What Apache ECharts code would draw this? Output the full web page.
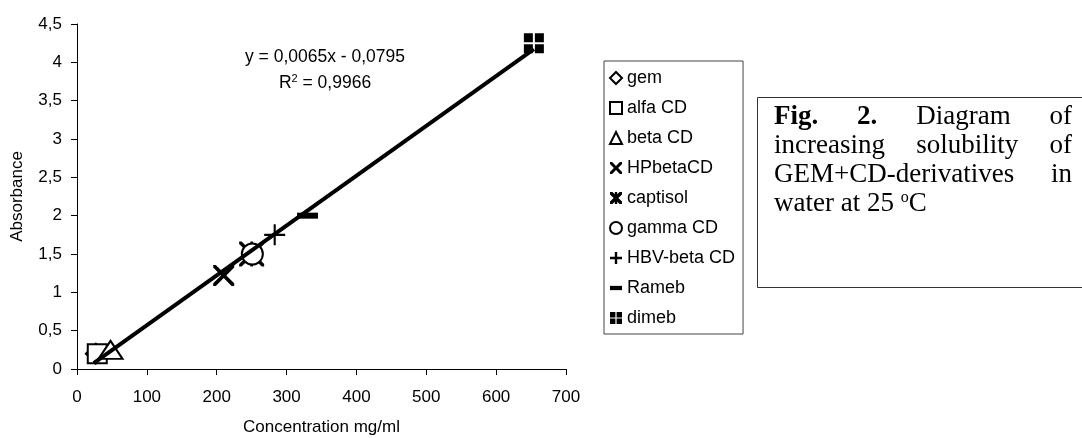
<!DOCTYPE html>
<html>
<head>
<meta charset="utf-8">
<script src="https://cdn.jsdelivr.net/npm/echarts@6/dist/echarts.min.js"></script>
<style>
html,body{margin:0;padding:0;background:#fff;}
#chart{width:1082px;height:438px;}
</style>
</head>
<body>
<div id="chart"></div>
<script>
// ---- data ----
const seriesNames = ['gem', 'alfa CD', 'beta CD', 'HPbetaCD', 'captisol', 'gamma CD', 'HBV-beta CD', 'Rameb', 'dimeb'];
const concX = [27, 29, 48, 210, 250, 251, 283, 330, 654];
const absorbanceY = [0.2, 0.2, 0.25, 1.22, 1.5, 1.5, 1.75, 2.0, 4.25];
const slope = 0.0065;
const intercept = -0.0795;
const equationText = 'y = 0,0065x - 0,0795';
const r2Text = ' = 0,9966';
const xTicks = [0, 100, 200, 300, 400, 500, 600, 700];
const yTicks = [0, 0.5, 1, 1.5, 2, 2.5, 3, 3.5, 4, 4.5];
const captionLines = [
  [['Fig.', true], ['2.', true], ['Diagram', false], ['of', false]],
  [['increasing', false], ['solubility', false], ['of', false]],
  [['GEM+CD-derivatives', false], ['in', false]]
];
const captionLast = ['water at 25 ', 'o', 'C'];

// ---- symbols ----
const P_X = 'path://M0,0 L2.5,0 L10,7.5 L17.5,0 L20,0 L20,2.5 L12.5,10 L20,17.5 L20,20 L17.5,20 L10,12.5 L2.5,20 L0,20 L0,17.5 L7.5,10 L0,2.5 Z';
const P_AST = 'path://M0,0 L2,0 L10,8 L18,0 L20,0 L20,2 L12,10 L20,18 L20,20 L18,20 L10,12 L2,20 L0,20 L0,18 L8,10 L0,2 Z M9,0 L11,0 L11,20 L9,20 Z';
const P_PLUS = 'path://M9,0 L11,0 L11,9 L20,9 L20,11 L11,11 L11,20 L9,20 L9,11 L0,11 L0,9 L9,9 Z';
const P_DIMEB = 'path://M0,0 L9,0 L9,9 L0,9 Z M11,0 L20,0 L20,9 L11,9 Z M0,11 L9,11 L9,20 L0,20 Z M11,11 L20,11 L20,20 L11,20 Z';
// bolder variants for the small legend icons
const L_X = 'path://M0,0 L3.5,0 L10,6.5 L16.5,0 L20,0 L20,3.5 L13.5,10 L20,16.5 L20,20 L16.5,20 L10,13.5 L3.5,20 L0,20 L0,16.5 L6.5,10 L0,3.5 Z';
const L_AST = 'path://M0,0 L4,0 L10,6 L16,0 L20,0 L20,4 L14,10 L20,16 L20,20 L16,20 L10,14 L4,20 L0,20 L0,16 L6,10 L0,4 Z M8,0 L12,0 L12,20 L8,20 Z';
const L_PLUS = 'path://M8,0 L12,0 L12,8 L20,8 L20,12 L12,12 L12,20 L8,20 L8,12 L0,12 L0,8 L8,8 Z';
const L_DASH = 'path://M0,0 L14,0 L14,5 L0,5 Z';

const symbolSpec = [
  {symbol: 'diamond', size: 20, hollow: true},
  {symbol: 'rect', size: 19, hollow: true},
  {symbol: 'triangle', size: [24, 18], hollow: true},
  {symbol: P_X, size: 21, hollow: false},
  {symbol: P_AST, size: 25, hollow: false},
  {symbol: 'circle', size: 21, hollow: true},
  {symbol: P_PLUS, size: 21, hollow: false},
  {symbol: 'rect', size: [21, 6], hollow: false},
  {symbol: P_DIMEB, size: 20, hollow: false}
];
const legendIcons = ['diamond', 'rect', 'triangle', L_X, L_AST, 'circle', L_PLUS, L_DASH, P_DIMEB];

const FONT = '"Liberation Sans", Arial, sans-serif';
const SERIF = '"Liberation Serif", "Times New Roman", serif';
const FS = 17;

const scatterSeries = seriesNames.map((name, i) => {
  const s = symbolSpec[i];
  return {
    name: name,
    type: 'scatter',
    data: [[concX[i], absorbanceY[i]]],
    symbol: s.symbol,
    symbolSize: s.size,
    z: 2,
    itemStyle: s.hollow ? {color: '#fff', borderColor: '#000', borderWidth: 2, opacity: 1}
                        : {color: '#000', borderWidth: 0, opacity: 1},
    emphasis: {disabled: true},
    silent: true
  };
});

const xMin = Math.min(...concX), xMax = Math.max(...concX);
const trendSeries = {
  name: 'trend',
  type: 'line',
  data: [[xMin - 3, slope * (xMin - 3) + intercept], [xMax, slope * xMax + intercept]],
  showSymbol: false,
  symbol: 'none',
  z: 5,
  lineStyle: {color: '#000', width: 4},
  silent: true,
  animation: false
};

// ---- caption layout (justified) ----
const ctx = document.createElement('canvas').getContext('2d');
const capFontSize = 27;
function measure(t, bold) {
  ctx.font = (bold ? 'bold ' : '') + capFontSize + 'px ' + SERIF;
  return ctx.measureText(t).width;
}
const capLeft = 774, capRight = 1072, capTop0 = 117, capLineH = 29;
const captionGraphics = [];
captionLines.forEach((words, li) => {
  const widths = words.map(w => measure(w[0], w[1]));
  const total = widths.reduce((a, b) => a + b, 0);
  const gap = (capRight - capLeft - total) / (words.length - 1);
  let x = capLeft;
  words.forEach((w, wi) => {
    captionGraphics.push({
      type: 'text', x: x, y: capTop0 + li * capLineH, silent: true,
      style: {text: w[0], fill: '#000', font: (w[1] ? 'bold ' : '') + capFontSize + 'px ' + SERIF,
              textAlign: 'left', textVerticalAlign: 'middle'}
    });
    x += widths[wi] + gap;
  });
});
captionGraphics.push({
  type: 'text', x: capLeft, y: capTop0 + 3 * capLineH, silent: true,
  style: {
    text: '{a|' + captionLast[0] + '}{s|' + captionLast[1] + '}{a|' + captionLast[2] + '}',
    textVerticalAlign: 'middle',
    rich: {
      a: {fontFamily: SERIF, fontSize: capFontSize, fill: '#000', lineHeight: 28},
      s: {fontFamily: SERIF, fontSize: 16, fill: '#000', verticalAlign: 'top', lineHeight: 28}
    }
  }
});

const chart = echarts.init(document.getElementById('chart'), null, {renderer: 'canvas'});
chart.setOption({
  animation: false,
  backgroundColor: '#fff',
  grid: {left: 77, right: 516, top: 24, bottom: 69, containLabel: false, outerBoundsMode: 'none'},
  xAxis: {
    type: 'value', min: xTicks[0], max: xTicks[xTicks.length - 1], interval: xTicks[1] - xTicks[0],
    name: 'Concentration mg/ml', nameLocation: 'middle', nameGap: 50,
    nameTextStyle: {fontFamily: FONT, fontSize: FS, color: '#000'},
    axisLine: {lineStyle: {color: '#000', width: 1}},
    axisTick: {show: true, length: 6, lineStyle: {color: '#000'}},
    axisLabel: {fontFamily: FONT, fontSize: FS, color: '#000', margin: 20},
    splitLine: {show: false}
  },
  yAxis: {
    type: 'value', min: yTicks[0], max: yTicks[yTicks.length - 1], interval: yTicks[1] - yTicks[0],
    name: 'Absorbance', nameLocation: 'middle', nameGap: 51, nameRotate: 90,
    nameTextStyle: {fontFamily: FONT, fontSize: FS, color: '#000'},
    axisLine: {show: true, lineStyle: {color: '#000', width: 1}},
    axisTick: {show: true, length: 6, lineStyle: {color: '#000'}},
    axisLabel: {fontFamily: FONT, fontSize: FS, color: '#000', margin: 15,
                formatter: v => String(v).replace('.', ',')},
    splitLine: {show: false}
  },
  legend: {
    orient: 'vertical', left: 604, top: 61,
    data: seriesNames.map((n, i) => ({name: n, icon: legendIcons[i]})),
    itemWidth: 12, itemHeight: 12, itemGap: 10,
    textStyle: {fontFamily: FONT, fontSize: 18, color: '#000', lineHeight: 20},
    borderColor: '#444', borderWidth: 1, borderRadius: 0,
    padding: [7, 8, 6, 5],
    selectedMode: false,
    itemStyle: {borderWidth: 2}
  },
  graphic: [
    {
      type: 'text', x: 325, y: 57, silent: true,
      style: {text: equationText, font: '17.5px ' + FONT, fill: '#000', textAlign: 'center', textVerticalAlign: 'middle'}
    },
    {
      type: 'text', x: 325, y: 83, silent: true,
      style: {
        text: '{a|R}{s|2}{a|' + r2Text + '}',
        textAlign: 'center', textVerticalAlign: 'middle',
        rich: {
          a: {fontFamily: FONT, fontSize: 17.5, fill: '#000', lineHeight: 19},
          s: {fontFamily: FONT, fontSize: 11, fill: '#000', verticalAlign: 'top', lineHeight: 19}
        }
      }
    },
    {
      type: 'rect', silent: true,
      shape: {x: 757.5, y: 97.5, width: 340, height: 190},
      style: {fill: 'none', stroke: '#333', lineWidth: 1}
    }
  ].concat(captionGraphics),
  series: scatterSeries.concat([trendSeries])
});
</script>
</body>
</html>
